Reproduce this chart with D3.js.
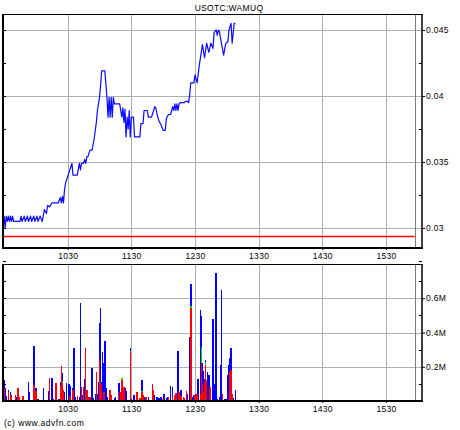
<!DOCTYPE html>
<html><head><meta charset="utf-8">
<script src="https://cdn.jsdelivr.net/npm/d3@7"></script>
<style>
body{margin:0;background:#fff}
svg{display:block}
text{font-family:"Liberation Sans",Arial,sans-serif;font-size:8.5px;fill:#000}
</style>
</head><body>
<svg id="c" width="460" height="430"></svg>
<script>
// ---------- data ----------
const title = "USOTC:WAMUQ";
const credit = "(c) www.advfn.com";
const openTime = "09:30";          // minute offsets below are counted from the open
const prevClose = 0.0294;          // red reference line
const sessionEnd = "15:57";        // dark vertical marker
const timeTicks = ["10:30","11:30","12:30","13:30","14:30","15:30"];
const priceTicks = [0.03, 0.035, 0.04, 0.045];
const priceMinorTicks = [0.0275, 0.0325, 0.0375, 0.0425];
const volTicks = [200000, 400000, 600000];
const volMinorTicks = [100000, 300000, 500000, 700000];

const priceMin = [0,1,2,3,4,5,6,7,8,9,15,16,17,19,20,22,23,25,26,28,29,31,32,34,36,
  38,40,41,43,45,51,53,54,55,56,57,58,60,62,64,65,69,71,72,73,75,76,77,78,79,81,83,85,87,88,90,91,92,95,
  97,98,99,100,101,102,103,104,109,111,112,113,114,115,116,117,118,119,120,122,123,128,129,131,132,135,136,139,
  141,142,143,144,146,148,150,152,153,155,157,159,160,161,162,163,164,165,166,170,171,173,174,175,176,179,180,182,
  184,187,189,191,193,195,197,198,200,201,202,203,204,207,209,211,212,214,215,217,218];
const priceVal = [0.0309,0.0300,0.0309,0.0305,0.0309,0.0305,0.0309,0.0305,0.0309,0.0305,0.0305,0.0309,0.0305,0.0309,0.0305,0.0309,0.0305,0.0309,0.0305,0.0309,0.0305,0.0309,0.0305,0.0309,0.0305,
  0.0314,0.0311,0.0317,0.0316,0.0319,0.0319,0.0323,0.0319,0.0324,0.0319,0.0329,0.0334,0.0339,0.0344,0.0349,0.0340,0.0340,0.0349,0.0344,0.0349,0.0349,0.0352,0.0349,0.0354,0.0354,0.0359,0.0359,0.0368,0.0380,0.0389,0.0399,0.0408,0.0419,0.0419,
  0.0399,0.0384,0.0399,0.0384,0.0399,0.0384,0.0399,0.0394,0.0394,0.0384,0.0391,0.0380,0.0390,0.0369,0.0384,0.0375,0.0389,0.0369,0.0384,0.0384,0.0369,0.0369,0.0379,0.0379,0.0389,0.0389,0.0384,0.0384,
  0.0389,0.0392,0.0391,0.0387,0.0381,0.0378,0.0374,0.0374,0.0383,0.0386,0.0386,0.0392,0.0389,0.0394,0.0389,0.0394,0.0389,0.0394,0.0395,0.0395,0.0396,0.0396,0.0395,0.0401,0.0410,0.0410,0.0416,0.0410,
  0.0423,0.0439,0.0429,0.0440,0.0433,0.0440,0.0436,0.0448,0.0450,0.0446,0.0450,0.0449,0.0444,0.0431,0.0440,0.0441,0.0450,0.0455,0.0440,0.0455,0.0455];

const volMin   = [0,1,2,4,6,7,11,12,13,14,18,23,24,28,30,32,37,42,43,45,46,49,52,53,54,55,56,57,59,61,62,65,66,67,69,71,72,73,74,75,76,77,78,79,81,82,83,84,86,87,88,89,90,91,92,93,94,95,96,97,100,101,104,105,108,109,110,111,112,113,114,115,119,120,122,123,125,126,128,130,131,133,134,136,140,141,142,144,146,148,150,151,153,154,155,157,159,161,162,164,165,166,167,169,170,172,173,175,176,177,179,180,181,182,183,185,186,187,188,189,190,191,192,193,194,197,198,200,201,203,204,205,206,208,209,211,212,213,214,215,216,218];
const volTotal = [122000,73000,30000,67000,53000,33000,37000,24000,73000,24000,27000,112000,53000,323000,73000,14000,76000,57000,135000,135000,14000,106000,14000,112000,204000,161000,63000,53000,108000,102000,86000,73000,312000,24000,27000,24000,573000,82000,33000,82000,131000,310000,63000,24000,24000,18000,190000,18000,43000,170000,43000,112000,455000,543000,112000,288000,220000,351000,73000,24000,63000,33000,18000,24000,106000,106000,53000,135000,82000,82000,73000,57000,308000,14000,37000,37000,53000,53000,18000,122000,33000,24000,24000,24000,102000,63000,33000,24000,18000,24000,14000,39000,18000,24000,24000,86000,82000,37000,49000,292000,53000,14000,63000,24000,18000,57000,43000,376000,686000,24000,33000,33000,43000,43000,131000,533000,494000,220000,175000,131000,240000,122000,167000,151000,82000,480000,102000,745000,14000,24000,210000,650000,43000,10000,10000,151000,210000,253000,312000,43000,20000,63000];
const volRed   = [73000,0,0,55000,35000,24000,37000,0,73000,24000,27000,0,0,96000,57000,0,0,0,135000,0,0,106000,0,90000,204000,108000,63000,0,0,0,30000,63000,0,0,27000,0,0,73000,0,82000,0,302000,63000,24000,24000,0,0,0,0,170000,0,0,239000,112000,102000,0,53000,0,0,0,63000,33000,0,0,53000,0,53000,122000,82000,82000,0,0,288000,0,0,0,53000,53000,18000,53000,33000,0,24000,0,102000,63000,0,0,0,0,14000,0,0,0,24000,0,24000,37000,49000,0,53000,14000,28000,24000,18000,57000,0,0,543000,0,0,33000,33000,43000,0,43000,220000,100000,53000,116000,210000,122000,0,0,82000,0,0,0,0,0,0,0,43000,0,0,0,0,170000,180000,43000,0,0];
const volGreen = [0,0,0,0,0,0,0,0,0,0,0,0,0,0,0,0,0,0,0,0,0,0,0,0,0,8000,0,0,0,0,0,0,0,0,0,0,0,0,0,0,0,0,0,0,0,0,0,0,0,0,0,0,0,0,0,0,0,0,0,0,0,0,0,0,0,0,0,10000,0,0,0,0,6000,0,0,0,0,0,0,6000,0,0,0,0,0,0,0,0,0,0,0,0,0,0,0,0,0,0,0,0,0,0,0,0,0,0,0,0,10000,0,0,0,0,0,0,0,98000,0,0,0,15000,0,0,0,0,0,0,0,0,0,0,0,0,0,0,0,0,0,0,0,0,0];

// ---------- helpers ----------
const toMin = s => { const [h,m] = s.split(":").map(Number); return h*60+m; };
const open = toMin(openTime);
const fmtTime = m => String(Math.floor(m/60)*100 + m%60);

const svg = d3.select("#c");
const L = 3, R = 422;
const P = {top:14, bottom:248};
const V = {top:264, bottom:401};

const x = d3.scaleLinear().domain([open-1, open+394]).range([L, R]);
const yP = d3.scaleLinear().domain([0.028485, 0.046212]).range([P.bottom, P.top]);
const yV = d3.scaleLinear().domain([0, 800000]).range([V.bottom, V.top]);

const gridCol = "#a9b3b3";
const crisp = v => Math.round(v) + 0.5;

function panel(top, bottom, yScale, hTicks) {
  const g = svg.append("g");
  g.selectAll(".hg").data(hTicks).join("line")
    .attr("x1", L).attr("x2", R)
    .attr("y1", d => crisp(yScale(d))).attr("y2", d => crisp(yScale(d)))
    .attr("stroke", gridCol).attr("stroke-width", 1);
  g.selectAll(".vg").data(timeTicks.map(toMin)).join("line")
    .attr("x1", d => crisp(x(d))).attr("x2", d => crisp(x(d)))
    .attr("y1", top).attr("y2", bottom)
    .attr("stroke", gridCol).attr("stroke-width", 1);
  g.append("line")
    .attr("x1", crisp(x(toMin(sessionEnd)))).attr("x2", crisp(x(toMin(sessionEnd))))
    .attr("y1", top).attr("y2", bottom)
    .attr("stroke", "#7a7a7a").attr("stroke-width", 1);
  return g;
}

// ---------- price panel ----------
panel(P.top, P.bottom, yP, priceTicks);

svg.append("line")
  .attr("x1", L).attr("x2", x(toMin(sessionEnd)))
  .attr("y1", crisp(yP(prevClose))).attr("y2", crisp(yP(prevClose)))
  .attr("stroke", "#ff0000").attr("stroke-width", 1.3);

const pts = priceMin.map((m, i) => [open + m, priceVal[i]]);
svg.append("path")
  .datum(pts)
  .attr("fill", "none")
  .attr("stroke", "#0a0aff")
  .attr("stroke-width", 1.2)
  .attr("stroke-linejoin", "round")
  .attr("d", d3.line().x(d => x(d[0])).y(d => yP(d[1])));

// ---------- volume panel ----------
panel(V.top, V.bottom, yV, volTicks);

const bw = 1.5;
const bars = volMin.map((m, i) => ({t: open + m, tot: volTotal[i], red: volRed[i], green: volGreen[i]}));
const gb = svg.append("g").attr("shape-rendering", "crispEdges");
gb.selectAll(".b").data(bars).join("rect")
  .attr("x", d => x(d.t) - bw/2).attr("width", bw)
  .attr("y", d => yV(d.tot)).attr("height", d => yV(0) - yV(d.tot))
  .attr("fill", "#0000ff");
gb.selectAll(".r").data(bars.filter(d => d.red > 0)).join("rect")
  .attr("x", d => x(d.t) - bw/2).attr("width", bw)
  .attr("y", d => yV(d.red)).attr("height", d => yV(0) - yV(d.red))
  .attr("fill", "#ff0000");
gb.selectAll(".g").data(bars.filter(d => d.green > 0)).join("rect")
  .attr("x", d => x(d.t) - bw/2).attr("width", bw)
  .attr("y", d => yV(d.red + d.green)).attr("height", d => yV(d.red) - yV(d.red + d.green))
  .attr("fill", "#00e000");

// ---------- frames & axes ----------
function frame(top, bottom) {
  svg.append("line").attr("x1", L).attr("x2", R+1).attr("y1", top+0.5).attr("y2", top+0.5).attr("stroke", "#000").attr("stroke-width", 1);
  svg.append("line").attr("x1", L-1).attr("x2", R+1).attr("y1", bottom).attr("y2", bottom).attr("stroke", "#000").attr("stroke-width", 2);
  svg.append("line").attr("x1", L).attr("x2", L).attr("y1", top).attr("y2", bottom+1).attr("stroke", "#000").attr("stroke-width", 2);
  svg.append("line").attr("x1", R).attr("x2", R).attr("y1", top).attr("y2", bottom+1).attr("stroke", "#000").attr("stroke-width", 1.5);
}
frame(P.top, P.bottom);
frame(V.top, V.bottom);

function styleAxis(g) {
  g.select(".domain").remove();
  g.selectAll("text").attr("fill", "#000").style("font-family", '"Liberation Sans",Arial,sans-serif').style("font-size", "8.5px").style("letter-spacing", "0.3px");
  g.selectAll(".tick line").attr("stroke", "#000");
}

svg.append("g").attr("transform", `translate(${R},0)`)
  .call(d3.axisRight(yP).tickValues(priceTicks).tickSize(3).tickPadding(1).tickFormat(d3.format("")))
  .call(styleAxis);
const allP = priceTicks.concat(priceMinorTicks);
svg.append("g").selectAll("line").data(priceMinorTicks).join("line")
  .attr("x1", R-3).attr("x2", R).attr("y1", d => crisp(yP(d))).attr("y2", d => crisp(yP(d))).attr("stroke", "#000");
svg.append("g").selectAll("line").data(allP).join("line")
  .attr("x1", L).attr("x2", L+3).attr("y1", d => crisp(yP(d))).attr("y2", d => crisp(yP(d))).attr("stroke", "#000");

svg.append("g").attr("transform", `translate(${R},0)`)
  .call(d3.axisRight(yV).tickValues(volTicks).tickSize(3).tickPadding(1).tickFormat(d => (d/1e6) + "M"))
  .call(styleAxis);
svg.append("g").selectAll("line").data(volMinorTicks).join("line")
  .attr("x1", R-3).attr("x2", R).attr("y1", d => crisp(yV(d))).attr("y2", d => crisp(yV(d))).attr("stroke", "#000");
svg.append("g").selectAll("line").data(volTicks.concat(volMinorTicks)).join("line")
  .attr("x1", L).attr("x2", L+3).attr("y1", d => crisp(yV(d))).attr("y2", d => crisp(yV(d))).attr("stroke", "#000");

[P.bottom, V.bottom].forEach(b => {
  svg.append("g").attr("transform", `translate(0,${b})`)
    .call(d3.axisBottom(x).tickValues(timeTicks.map(toMin)).tickSize(2).tickPadding(3).tickFormat(fmtTime))
    .call(styleAxis);
});

svg.append("text").attr("x", 229).attr("y", 11).attr("text-anchor", "middle")
  .style("letter-spacing", "0.3px").text(title);
svg.append("text").attr("x", 4).attr("y", 426)
  .style("letter-spacing", "0.5px").text(credit);
</script>
</body></html>
